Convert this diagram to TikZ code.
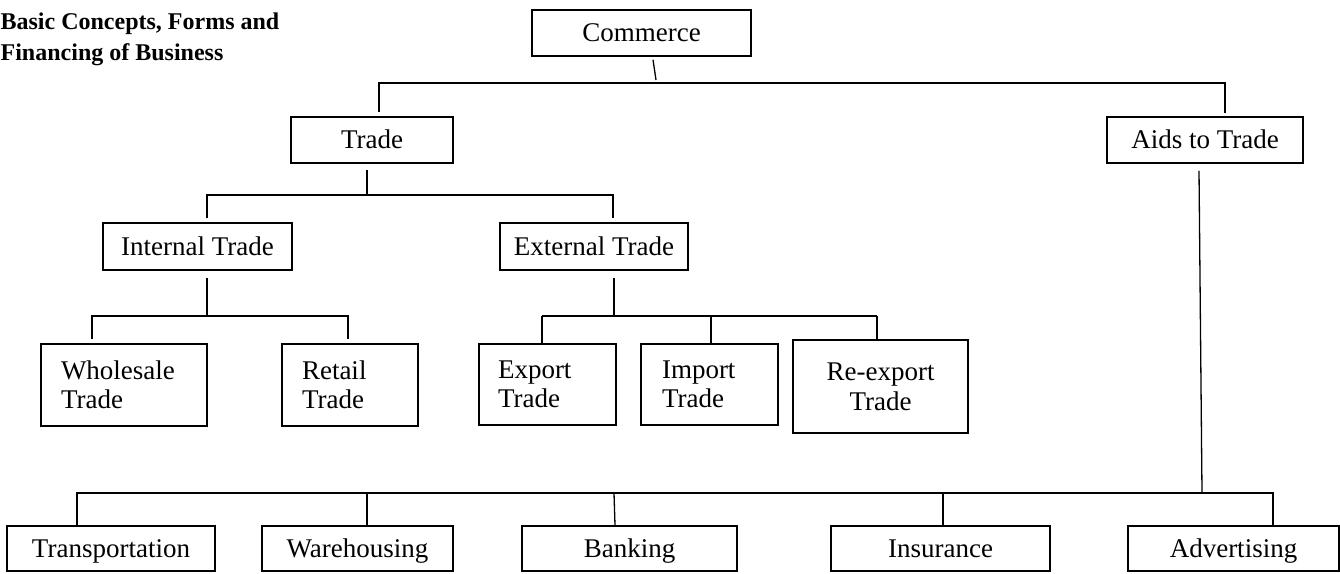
\documentclass[tikz,border=0pt]{standalone}
\usepackage{fontspec}
\setmainfont{Liberation Serif}
\begin{document}
\begin{tikzpicture}[x=1pt,y=-1pt,line width=1.3pt,
  box/.style={draw,line width=1.5pt,inner sep=0pt,
    font=\fontsize{27}{29}\selectfont},
  onebox/.style={box,minimum height=46pt,text height=20pt,text depth=3pt},
  twobox/.style={box,minimum height=82pt,align=left},
  heavy/.style={line width=2.6pt},
  heading/.style={anchor=north west,inner sep=0pt,align=left,
    font=\bfseries\fontsize{24}{31}\selectfont}]
\useasboundingbox (0,0) rectangle (1340,573);

% heading
\node[heading] (title) at (0,12) {Basic Concepts, Forms and\\Financing of Business};

% top levels
\node[onebox,minimum width=219pt] (commerce) at (641.5,33) {Commerce};
\node[onebox,minimum width=162pt] (trade) at (372,140) {Trade};
\node[onebox,minimum width=196pt] (aids) at (1205,140) {Aids to Trade};
\node[onebox,minimum width=189pt,minimum height=47pt] (internal) at (197.5,246.5) {Internal Trade};
\node[onebox,minimum width=188pt,minimum height=47pt] (external) at (594,246.5) {External Trade};

% kinds of trade
\node[twobox,minimum width=166pt,text width=126pt] (wholesale) at (124,385) {Wholesale\\Trade};
\node[twobox,minimum width=136pt,text width=96pt] (retail) at (350,385) {Retail\\Trade};
\node[twobox,minimum width=137pt,minimum height=81pt,text width=99pt] (export) at (547.5,384.5) {Export\\Trade};
\node[twobox,minimum width=137pt,minimum height=81pt,text width=95pt] (import) at (709.5,384.5) {Import\\Trade};
\node[box,line width=2.6pt,minimum width=175pt,minimum height=93pt,align=center,
  font=\fontsize{27}{30}\selectfont] (reexport) at (880.5,386.5) {Re-export\\Trade};

% aids to trade
\node[onebox,minimum width=208pt,minimum height=45pt] (transport) at (111,548.5) {Transportation};
\node[onebox,minimum width=191pt,minimum height=45pt] (warehouse) at (357.5,548.5) {Warehousing};
\node[onebox,minimum width=215pt,minimum height=45pt] (banking) at (629.5,548.5) {Banking};
\node[onebox,minimum width=219pt,minimum height=45pt] (insurance) at (940.5,548.5) {Insurance};
\node[onebox,minimum width=211pt,minimum height=45pt] (advert) at (1233.5,548.5) {Advertising};

% commerce branches
\coordinate (cbus) at (656,83);
\draw ([xshift=11.5pt,yshift=-3pt]commerce.south) -- ([yshift=3pt]cbus);
\draw ([xshift=7pt,yshift=4pt]trade.north) |- (cbus) -| ([xshift=20pt,yshift=3pt]aids.north);

% trade branches
\coordinate (tbus) at (367,195);
\draw ([xshift=-5pt,yshift=-6pt]trade.south) -- (tbus);
\draw ([xshift=9.5pt,yshift=4pt]internal.north) |- (tbus) -| ([xshift=19pt,yshift=4pt]external.north);

% internal trade branches
\coordinate (ibus) at (207,316);
\draw ([xshift=9.5pt,yshift=-7pt]internal.south) -- (ibus);
\draw ([xshift=-32pt,yshift=4pt]wholesale.north) |- (ibus) -| ([xshift=-2pt,yshift=4pt]retail.north);

% external trade branches
\coordinate (ebus) at (614,316);
\coordinate (eL) at (542,316);
\coordinate (eR) at (877,316);
\draw ([xshift=20pt,yshift=-7pt]external.south) -- (ebus);
\draw[heavy] (eL) -- (eR);
\draw ([xshift=-5.5pt]export.north) -- (eL);
\draw ([xshift=1.5pt]import.north) -- ([xshift=1.5pt]import.north |- eL);
\draw ([xshift=-3.5pt]reexport.north) -- (eR);

% aids to trade branches
\coordinate (abus) at (1202,493);
\draw ([xshift=-6pt,yshift=-7pt]aids.south) -- (abus);
\draw ([xshift=-34pt]transport.north) |- (abus) -| ([xshift=39.5pt]advert.north);
\draw ([xshift=9.5pt]warehouse.north) -- ([xshift=9.5pt]warehouse.north |- abus);
\draw ([xshift=-14.5pt]banking.north) -- ([xshift=-15.5pt]banking.north |- abus);
\draw ([xshift=2.5pt]insurance.north) -- ([xshift=2.5pt]insurance.north |- abus);
\end{tikzpicture}
\end{document}
